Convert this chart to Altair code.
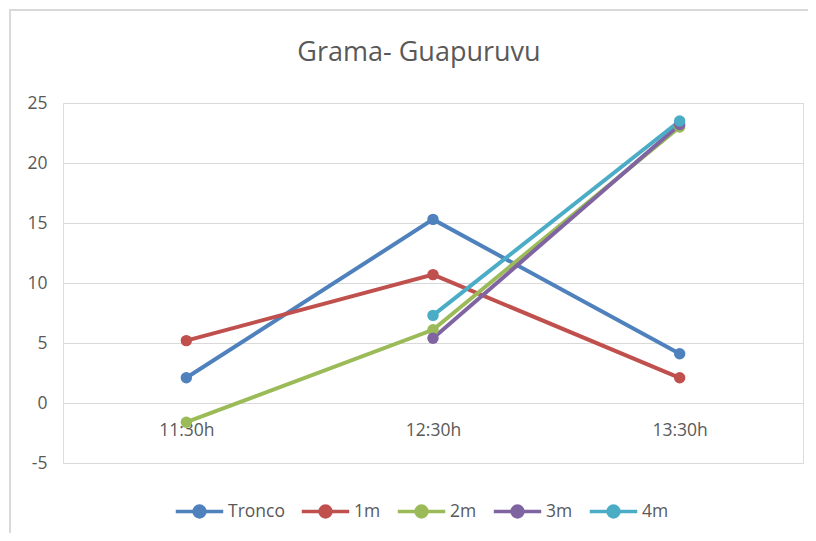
import altair as alt
import pandas as pd

title = "Grama- Guapuruvu"
times = ["11:30h", "12:30h", "13:30h"]
series = ["Tronco", "1m", "2m", "3m", "4m"]
colors = ["#4f81bd", "#c0504d", "#9bbb59", "#8064a2", "#4bacc6"]

tronco = [2.1, 15.3, 4.1]
m1 = [5.2, 10.7, 2.1]
m2 = [-1.6, 6.1, 23.0]
m3 = [None, 5.4, 23.2]
m4 = [None, 7.3, 23.5]

rows = []
for name, vals in zip(series, [tronco, m1, m2, m3, m4]):
    for t, v in zip(times, vals):
        if v is not None:
            rows.append({"time": t, "serie": name, "value": v})
df = pd.DataFrame(rows)

W, H = 740, 360
PAD_L, PAD_T = 55, 95
FONT = "Open Sans"
GREY = "#595959"

legend_path = ("M-1,0L1,0M0.23,0A0.23,0.23,0,1,1,-0.23,0"
               "A0.23,0.23,0,1,1,0.23,0Z")

color = alt.Color(
    "serie:N",
    scale=alt.Scale(domain=series, range=colors),
    sort=series,
    legend=alt.Legend(
        title=None,
        orient="none",
        direction="horizontal",
        legendX=111,
        legendY=383,
        symbolType=legend_path,
        symbolSize=2250,
        symbolStrokeWidth=3.5,
        labelFont=FONT,
        labelFontSize=17.5,
        labelColor=GREY,
        labelOffset=3,
        columnPadding=9,
    ),
)

x = alt.X(
    "time:N",
    sort=times,
    scale=alt.Scale(type="point", padding=0.5),
    axis=alt.Axis(
        title=None, domain=False, ticks=False, grid=False, labelAngle=0,
        offset=-60, labelPadding=18, labelFont=FONT, labelFontSize=17.5,
        labelColor=GREY,
    ),
)
y = alt.Y(
    "value:Q",
    scale=alt.Scale(domain=[-5, 25], nice=False, zero=False),
    axis=alt.Axis(
        title=None, domain=False, ticks=False, values=[-5, 0, 5, 10, 15, 20, 25],
        labelExpr="datum.value < 0 ? '-' + abs(datum.value) : '' + datum.value",
        labelPadding=16, labelFont=FONT, labelFontSize=17.5,
        labelColor=GREY, gridColor="#d9d9d9", gridWidth=1,
    ),
)

frame_src = alt.Chart(pd.DataFrame({"a": [0]}))
left_edge = frame_src.mark_rule(stroke="#d9d9d9", strokeWidth=2).encode(
    x=alt.value(-53), y=alt.value(-93), y2=alt.value(448)
)
top_edge = frame_src.mark_rule(stroke="#d9d9d9", strokeWidth=2).encode(
    x=alt.value(-54), x2=alt.value(763), y=alt.value(-93)
)

lines = alt.Chart(df).mark_line(strokeWidth=4).encode(x=x, y=y, color=color)
points = alt.Chart(df).mark_point(filled=True, size=130, opacity=1).encode(
    x=x, y=y, color=color
)

chart = alt.layer(left_edge, top_edge, lines, points).properties(
    width=W,
    height=H,
    padding={"left": PAD_L, "top": PAD_T, "right": 5, "bottom": 70},
    autosize=alt.AutoSizeParams(type="none"),
    title=alt.Title(
        title, font=FONT, fontSize=27, fontWeight="normal",
        color=GREY, anchor="middle", dx=-14, offset=-58,
    ),
).configure_view(stroke=None).configure(background="white")

chart.save("out.html", embed_options={"renderer": "svg", "actions": False})
